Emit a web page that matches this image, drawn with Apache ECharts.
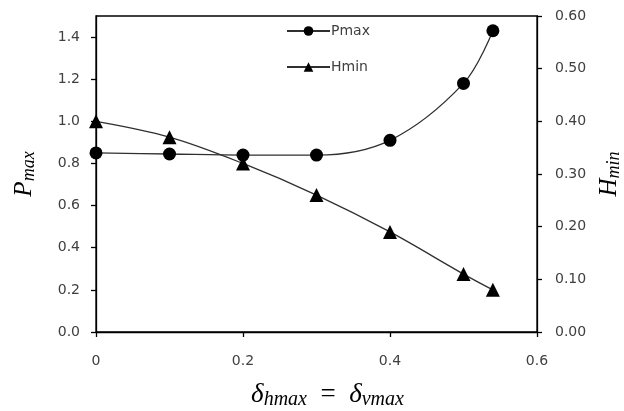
<!DOCTYPE html>
<html><head><meta charset="utf-8">
<script src="https://cdn.jsdelivr.net/npm/echarts@6/dist/echarts.min.js"></script>
<style>html,body{margin:0;padding:0;background:#fff}#c{width:624px;height:411px}</style>
</head><body><div id="c"></div>
<script>
var xVals = [0, 0.1, 0.2, 0.3, 0.4, 0.5, 0.54];
var pmaxVals = [0.85, 0.845, 0.84, 0.84, 0.91, 1.18, 1.43];
var hminVals = [0.40, 0.37, 0.32, 0.26, 0.19, 0.11, 0.08];
var leftTicks = [0, 0.2, 0.4, 0.6, 0.8, 1.0, 1.2, 1.4];
var rightTicks = [0, 0.1, 0.2, 0.3, 0.4, 0.5, 0.6];
var xTicks = [0, 0.2, 0.4, 0.6];

function pairs(xs, ys){ return xs.map(function(x,i){ return [x, ys[i]]; }); }

var labelFont = {color:'#404040', fontFamily:'DejaVu Sans', fontSize:14};
var richT = {
  i:{fontFamily:'Liberation Serif', fontStyle:'italic', fontSize:25, color:'#000', lineHeight:28},
  s:{fontFamily:'Liberation Serif', fontStyle:'italic', fontSize:18, color:'#000', lineHeight:15, verticalAlign:'bottom'},
  n:{fontFamily:'Liberation Serif', fontSize:25, color:'#000', lineHeight:28}
};
var richX = {
  i:{fontFamily:'Liberation Serif', fontStyle:'italic', fontSize:27, color:'#000', lineHeight:30},
  s:{fontFamily:'Liberation Serif', fontStyle:'italic', fontSize:20, color:'#000', lineHeight:16, verticalAlign:'bottom'},
  n:{fontFamily:'Liberation Serif', fontSize:27, color:'#000', lineHeight:30}
};
var axLine = {show:true, lineStyle:{color:'#000', width:1.3}};
var axTick = {show:true, inside:false, length:5, lineStyle:{color:'#000', width:1.3}};

var chart = echarts.init(document.getElementById('c'), null, {renderer:'canvas'});
chart.setOption({
  animation:false,
  grid:{left:96, right:87, top:16, bottom:79, show:true, borderColor:'#000', borderWidth:1.3,
        containLabel:false, outerBoundsMode:'none'},
  legend:{
    orient:'vertical', left:286, top:24, padding:0, itemGap:22, itemWidth:43, itemHeight:12,
    textStyle:{color:'#404040', fontFamily:'DejaVu Sans', fontSize:14, padding:[0,0,0,-4]},
    data:['Pmax','Hmin']
  },
  xAxis:{
    type:'value', min:0, max:0.6, interval:0.2,
    axisLine:axLine, axisTick:axTick, splitLine:{show:false},
    axisLabel:Object.assign({margin:22, formatter:function(v){return v===0?'0':String(+v.toFixed(1));}}, labelFont),
    name:'{i|δ}{s|hmax}{n|  =  }{i|δ}{s|vmax}', nameLocation:'middle', nameGap:48,
    nameTextStyle:{rich:richX, padding:[0,0,0,22]}
  },
  yAxis:[{
    type:'value', min:0, max:1.5, position:'left',
    axisLine:axLine, splitLine:{show:false},
    axisTick:Object.assign({customValues:leftTicks}, axTick),
    axisLabel:Object.assign({margin:16, customValues:leftTicks, formatter:function(v){return v.toFixed(1);}}, labelFont),
    name:'{i|P}{s|max}', nameLocation:'middle', nameGap:58, nameRotate:90,
    nameTextStyle:{rich:richT}
  },{
    type:'value', min:0, max:0.6, interval:0.1, position:'right',
    axisLine:axLine, splitLine:{show:false},
    axisTick:Object.assign({customValues:rightTicks}, axTick),
    axisLabel:Object.assign({margin:18, customValues:rightTicks, formatter:function(v){return v.toFixed(2);}}, labelFont),
    name:'{i|H}{s|min}', nameLocation:'middle', nameGap:58, nameRotate:90,
    nameTextStyle:{rich:richT}
  }],
  series:[{
    name:'Pmax', type:'line', yAxisIndex:0, data:pairs(xVals, pmaxVals),
    smooth:0.35, symbol:'circle', symbolSize:13,
    lineStyle:{color:'#303030', width:1.3}, itemStyle:{color:'#000'}
  },{
    name:'Hmin', type:'line', yAxisIndex:1, data:pairs(xVals, hminVals),
    smooth:0.35, symbol:'triangle', symbolSize:14,
    lineStyle:{color:'#303030', width:1.3}, itemStyle:{color:'#000'}
  }]
});
</script></body></html>
